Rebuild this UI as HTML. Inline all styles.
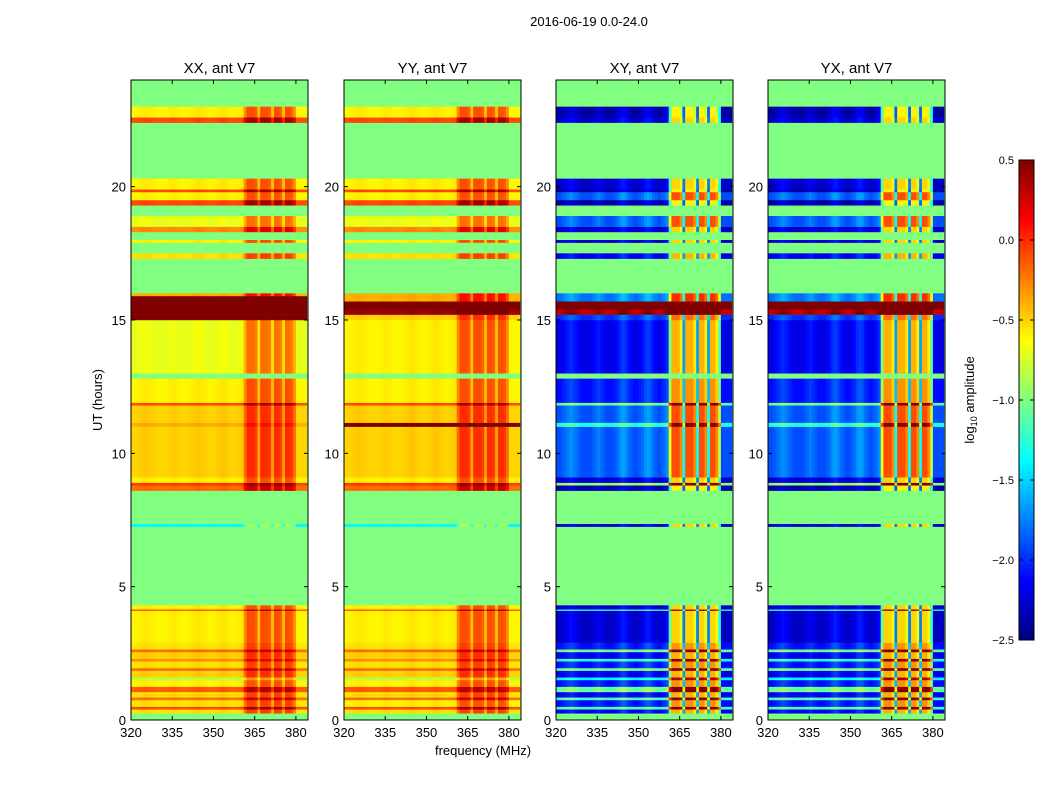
<!DOCTYPE html>
<html><head><meta charset="utf-8"><style>
body{margin:0;background:#fff;font-family:"Liberation Sans",sans-serif;}
svg text{font-family:"Liberation Sans",sans-serif;}
</style></head><body>
<svg id="fig" width="1050" height="800" xmlns="http://www.w3.org/2000/svg">
<text x="589" y="26" font-size="13" text-anchor="middle">2016-06-19 0.0-24.0</text>
<text x="483" y="755" font-size="13" text-anchor="middle">frequency (MHz)</text>
<text transform="translate(102,400) rotate(-90)" font-size="13" text-anchor="middle">UT (hours)</text>
<g id="panels"></g>
<g id="cbar"></g>
</svg>
<script>
const panelTitles=["XX, ant V7","YY, ant V7","XY, ant V7","YX, ant V7"];
const xTicks=[320,335,350,365,380];
const yTicks=[0,5,10,15,20];
const cbarTicks=[-2.5,-2.0,-1.5,-1.0,-0.5,0.0,0.5];
const cbarLabels=["\u22122.5","\u22122.0","\u22121.5","\u22121.0","\u22120.5","0.0","0.5"];
// bands: start hour, end hour, XX, YY, XY, YX (null = flagged)
const bandStart=[0,0.25,0.4,0.5,0.75,0.85,1.05,1.25,1.5,1.6,1.85,1.95,2.2,2.3,2.55,2.65,2.9,4.1,4.15,4.3,7.25,7.35,8.6,8.8,8.9,9.1,11.0,11.15,11.8,11.9,12.8,13.0,15.0,15.2,15.4,15.7,15.9,16.0,17.3,17.5,17.9,18.0,18.3,18.5,18.9,19.3,19.5,19.8,19.9,20.3,22.4,22.6,23.0];
const bandEnd=[0.25,0.4,0.5,0.75,0.85,1.05,1.25,1.5,1.6,1.85,1.95,2.2,2.3,2.55,2.65,2.9,4.1,4.15,4.3,7.25,7.35,8.6,8.8,8.9,9.1,11.0,11.15,11.8,11.9,12.8,13.0,15.0,15.2,15.4,15.7,15.9,16.0,17.3,17.5,17.9,18.0,18.3,18.5,18.9,19.3,19.5,19.8,19.9,20.3,22.4,22.6,23.0,24];
const xxVals=[null,-0.55,-0.1,-0.55,-0.2,-0.55,-0.15,-0.6,-0.85,-0.5,-0.2,-0.55,-0.3,-0.5,-0.2,-0.55,-0.6,-0.1,-0.6,null,-1.4,null,-0.2,-0.05,-0.6,-0.5,-0.4,-0.5,-0.1,-0.6,null,-0.7,0.5,0.5,0.5,0.5,-0.4,null,-0.55,null,-0.6,null,-0.3,-0.7,null,-0.1,-0.6,-0.1,-0.6,null,-0.1,-0.6,null];
const yyVals=[null,-0.55,-0.1,-0.6,-0.2,-0.55,-0.15,-0.6,-0.85,-0.5,-0.2,-0.55,-0.3,-0.5,-0.2,-0.55,-0.6,-0.1,-0.6,null,-1.4,null,-0.2,-0.05,-0.6,-0.5,0.5,-0.5,-0.1,-0.6,null,-0.6,-0.5,0.4,0.5,-0.4,-0.4,null,-0.55,null,-0.6,null,-0.3,-0.7,null,-0.1,-0.6,-0.1,-0.6,null,-0.1,-0.6,null];
const xyVals=[null,-2.2,-1.2,-2.1,-1.2,-2.2,-1.1,-2.1,-1.4,-2.2,-1.1,-2.1,-1.3,-2.2,-1.1,-2.1,-2.3,-1.3,-2.3,null,-2.3,null,-2.4,-1.0,-2.3,-1.9,-1.3,-1.9,-1.1,-2.1,null,-2.2,-2.0,0.3,0.5,-1.8,-1.8,null,-2.2,null,-2.3,null,-2.3,-1.9,null,-2.4,-1.9,-2.4,-2.3,null,-2.3,-2.4,null];
const yxVals=[null,-2.2,-1.2,-2.1,-1.2,-2.2,-1.1,-2.1,-1.4,-2.2,-1.1,-2.1,-1.3,-2.2,-1.1,-2.1,-2.3,-1.3,-2.3,null,-2.3,null,-2.4,-1.0,-2.3,-1.9,-1.3,-1.9,-1.1,-2.1,null,-2.2,-2.0,0.3,0.5,-1.8,-1.8,null,-2.2,null,-2.3,null,-2.3,-1.9,null,-2.4,-1.9,-2.4,-2.3,null,-2.3,-2.4,null];
// per-channel (1 MHz, 320..383) RFI strength and ripple
const rfi=[0,0,0,0,0,0,0,0,0,0, 0,0,0,0,0,0,0,0,0,0, 0,0,0,0,0,0,0,0,0,0, 0,0,0,0,0,0,0,0,0,0, 0,0.5,1,1,1,0.9,0.3,1,1,1, 0.9,0.3,1,1,0.9,0.3,1,1,0.9,0.6, 0,0,0,0];
const ripple=[0,0,0.05,0.1,0.15,0.2,0.15,0.1,0.05,0,0,0,0,0.05,0.1,0.15,0.1,0.05,0,0, 0,0.05,0.1,0.2,0.25,0.2,0.1,0.05,0,0, 0.05,0.1,0.2,0.25,0.2,0.1,0.05,0,0.05,0.1, 0.2,0.3,0,0,0,0,0,0,0,0, 0,0,0,0,0,0,0,0,0,0, 0,0,0,0];
const series=[xxVals,yyVals,xyVals,yxVals];
const rfiGain=[0.5,0.5,1.8,1.8];
const rippleGain=[0.2,0.2,1,1];

const NS="http://www.w3.org/2000/svg";
const panelX=[131,344,556,768],PW=177,PT=80,PH=640;
const fMin=320,fMax=384.4,tMin=0,tMax=24;
function xs(p,f){return panelX[p]+(f-fMin)/(fMax-fMin)*PW;}
function ys(t){return PT+PH-(t-tMin)/(tMax-tMin)*PH;}
function jet(v){let t=(v+2.5)/3;t=Math.max(0,Math.min(1,t));
 const c=x=>Math.round(255*Math.max(0,Math.min(1,1.5-Math.abs(4*t-x))));
 return `rgb(${c(3)},${c(2)},${c(1)})`;}
function el(tag,attrs,parent){const e=document.createElementNS(NS,tag);for(const k in attrs)e.setAttribute(k,attrs[k]);parent.appendChild(e);return e;}
const gp=document.getElementById('panels');
for(let p=0;p<4;p++){
 const g=el('g',{},gp);
 
 
 const bg=el('rect',{x:panelX[p],y:PT,width:PW,height:PH,fill:jet(-1.0)},g);
 
 
 const vals=series[p];
 for(let b=0;b<bandStart.length;b++){
  const v=vals[b]; if(v===null) continue;
  const y0=ys(bandEnd[b]),y1=ys(bandStart[b]);
  for(let c=0;c<rfi.length;c++){
   const f=fMin+c; const x0=xs(p,f),x1=Math.min(xs(p,f+1),panelX[p]+PW);
   const val=v+rfi[c]*rfiGain[p]+ripple[c]*rippleGain[p];
   const r=el('rect',{x:x0,y:y0,width:x1-x0+0.3,height:y1-y0+0.2,fill:jet(val)},g);
   
   
  }
 }
 const fr=el('rect',{x:panelX[p],y:PT,width:PW,height:PH,fill:'none',stroke:'#000','stroke-width':1},g);
 
 
 const tt=el('text',{x:panelX[p]+PW/2,y:PT-7,'font-size':15,'text-anchor':'middle'},g);
 tt.textContent=panelTitles[p];
 
 
 xTicks.forEach(f=>{const x=xs(p,f);
  el('line',{x1:x,x2:x,y1:PT+PH,y2:PT+PH-4,stroke:'#000'},g);
  el('line',{x1:x,x2:x,y1:PT,y2:PT+4,stroke:'#000'},g);
  const t=el('text',{x:x,y:PT+PH+17,'font-size':13,'text-anchor':'middle'},g);t.textContent=f;
  
  });
 yTicks.forEach(h=>{const y=ys(h);
  el('line',{x1:panelX[p],x2:panelX[p]+4,y1:y,y2:y,stroke:'#000'},g);
  el('line',{x1:panelX[p]+PW,x2:panelX[p]+PW-4,y1:y,y2:y,stroke:'#000'},g);
  const t=el('text',{x:panelX[p]-5,y:y+5,'font-size':13,'text-anchor':'end'},g);t.textContent=h;
  
  });
}
// colorbar
const cb=document.getElementById('cbar');
const CX=1019,CW=15,CT=160,CH=480;
function cy(v){return CT+CH-(v+2.5)/3*CH;}
for(let i=0;i<120;i++){const v0=-2.5+i*3/120,v1=v0+3/120;
 const r=el('rect',{x:CX,y:cy(v1),width:CW,height:cy(v0)-cy(v1)+0.5,fill:jet((v0+v1)/2)},cb);
 
 }
const cf=el('rect',{x:CX,y:CT,width:CW,height:CH,fill:'none',stroke:'#000'},cb);


cbarTicks.forEach((v,i)=>{const y=cy(v);
 el('line',{x1:CX+CW-4,x2:CX+CW,y1:y,y2:y,stroke:'#000'},cb);
 el('line',{x1:CX,x2:CX+4,y1:y,y2:y,stroke:'#000'},cb);
 const t=el('text',{x:CX-5,y:y+4,'font-size':11,'text-anchor':'end'},cb);t.textContent=cbarLabels[i];
 
 });
const cl=el('text',{transform:'translate(974,400) rotate(-90)','font-size':13,'text-anchor':'middle'},cb);
cl.innerHTML='log<tspan font-size="9" dy="3">10</tspan><tspan dy="-3"> amplitude</tspan>';


</script>
</body></html>
